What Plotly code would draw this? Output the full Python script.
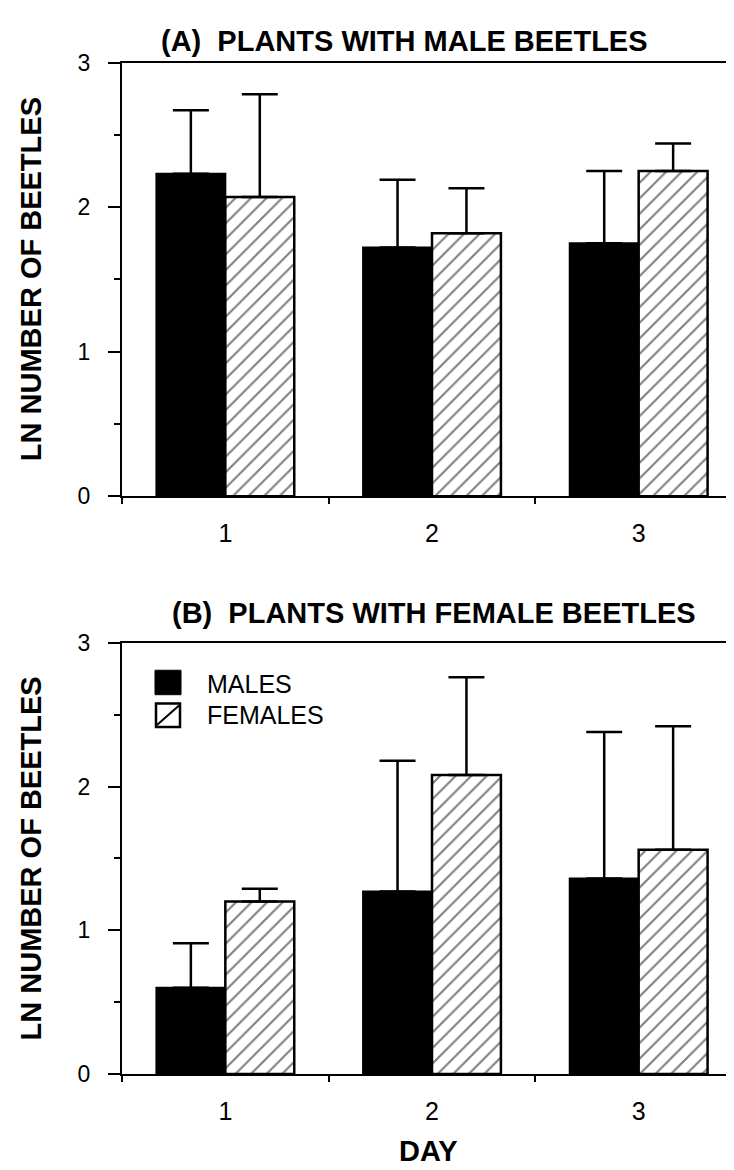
import plotly.graph_objects as go

# ---------------- data ----------------
days = [1, 2, 3]
day_labels = ["1", "2", "3"]

# (A) plants with male beetles
a_males = [2.23, 1.72, 1.75]
a_males_se = [0.44, 0.47, 0.50]
a_females = [2.07, 1.82, 2.25]
a_females_se = [0.71, 0.31, 0.19]

# (B) plants with female beetles
b_males = [0.60, 1.27, 1.36]
b_males_se = [0.31, 0.91, 1.02]
b_females = [1.20, 2.08, 1.56]
b_females_se = [0.09, 0.68, 0.86]

y_ticks = [0, 1, 2, 3]
series_names = ["MALES", "FEMALES"]

# ---------------- layout helpers ----------------
W, H = 734, 1170
FONT = "Liberation Sans, Arial, Helvetica, sans-serif"


def px(x):
    return x / W


def py(y):
    return 1 - y / H


fig = go.Figure()


def add_panel(males, males_se, females, females_se, xa, ya):
    fig.add_trace(go.Bar(
        x=days, y=males, name=series_names[0], xaxis=xa, yaxis=ya,
        marker=dict(color="black", line=dict(color="black", width=2)),
        error_y=dict(type="data", array=males_se, arrayminus=[0] * len(males_se),
                     symmetric=False, color="black", thickness=2.5, width=18),
        showlegend=False,
    ))
    fig.add_trace(go.Bar(
        x=days, y=females, name=series_names[1], xaxis=xa, yaxis=ya,
        marker=dict(color="white", line=dict(color="black", width=2.5),
                    pattern=dict(shape="/", fgcolor="black", bgcolor="white",
                                 size=11, solidity=0.19)),
        error_y=dict(type="data", array=females_se, arrayminus=[0] * len(females_se),
                     symmetric=False, color="black", thickness=2.5, width=18),
        showlegend=False,
    ))


add_panel(a_males, a_males_se, a_females, a_females_se, "x", "y")
add_panel(b_males, b_males_se, b_females, b_females_se, "x2", "y2")

xdom = [px(114), 1.0]
xcommon = dict(
    range=[0.5, 3.5], tickvals=days, ticktext=day_labels, ticks="",
    showline=True, linewidth=2, linecolor="black", mirror=True,
    showgrid=False, zeroline=False,
    tickfont=dict(family=FONT, size=25, color="black"),
    ticklabelstandoff=14,
    minor=dict(tickvals=[0.5, 1.5, 2.5], ticks="outside", ticklen=6,
               tickwidth=2, tickcolor="black"),
    fixedrange=True,
)
ycommon = dict(
    range=[0, 3], tickvals=y_ticks, ticks="outside", ticklen=12, tickwidth=2,
    tickcolor="black", showline=True, linewidth=2, linecolor="black",
    showgrid=False, zeroline=False,
    tickfont=dict(family=FONT, size=23, color="black"),
    ticklabelstandoff=13,
    minor=dict(dtick=0.5, ticks="outside", ticklen=6, tickwidth=2,
               tickcolor="black"),
    fixedrange=True,
)

fig.update_layout(
    width=W, height=H,
    margin=dict(l=0, r=0, t=0, b=0),
    paper_bgcolor="white", plot_bgcolor="white",
    barmode="group", bargap=0.333, bargroupgap=0,
    showlegend=False,
    xaxis=dict(domain=xdom, anchor="y", **xcommon),
    yaxis=dict(domain=[py(486), py(42.5)], anchor="x", **ycommon),
    xaxis2=dict(domain=xdom, anchor="y2", **xcommon),
    yaxis2=dict(domain=[py(1077), py(636)], anchor="x2", **ycommon),
)

title_font = dict(family=FONT, size=29, color="black")
ann = [
    dict(text="<b>(A)\u00a0\u00a0PLANTS WITH MALE BEETLES</b>", x=px(396), y=py(20)),
    dict(text="<b>(B)\u00a0\u00a0PLANTS WITH FEMALE BEETLES</b>", x=px(426), y=py(605)),
    dict(text="<b>LN NUMBER OF BEETLES</b>", x=px(23), y=py(264), textangle=-90),
    dict(text="<b>LN NUMBER OF BEETLES</b>", x=px(23), y=py(856.5), textangle=-90),
    dict(text="<b>DAY</b>", x=px(420), y=py(1156)),
]
for a in ann:
    fig.add_annotation(xref="paper", yref="paper", showarrow=False,
                       xanchor="center", yanchor="middle", font=title_font, **a)

leg_font = dict(family=FONT, size=25, color="black")
fig.add_annotation(text=series_names[0], xref="paper", yref="paper", x=px(197), y=py(678),
                   xanchor="left", yanchor="middle", showarrow=False, font=leg_font)
fig.add_annotation(text=series_names[1], xref="paper", yref="paper", x=px(197), y=py(710),
                   xanchor="left", yanchor="middle", showarrow=False, font=leg_font)

# legend swatches
fig.add_shape(type="rect", xref="paper", yref="paper",
              x0=px(147), x1=px(173), y0=py(689), y1=py(664),
              fillcolor="black", line=dict(color="black", width=1))
fig.add_shape(type="rect", xref="paper", yref="paper",
              x0=px(148), x1=px(172), y0=py(722), y1=py(698),
              fillcolor="white", line=dict(color="black", width=2.5))
fig.add_shape(type="line", xref="paper", yref="paper",
              x0=px(149), x1=px(171), y0=py(720), y1=py(700),
              line=dict(color="black", width=2))

fig.write_html("out.html")
